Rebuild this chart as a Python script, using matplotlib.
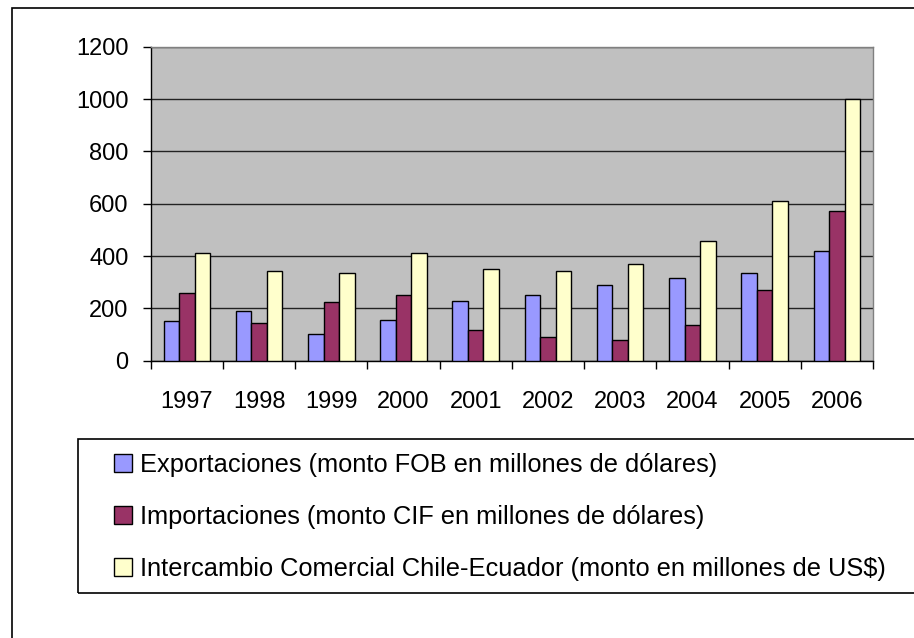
"""Chile-Ecuador trade chart, 1997-2006."""

import matplotlib
matplotlib.use("Agg")
import matplotlib.pyplot as plt
import matplotlib.patches as mpatches
import numpy as np

years = ["1997", "1998", "1999", "2000", "2001", "2002", "2003", "2004", "2005", "2006"]
exportaciones = [150, 191, 103, 157, 230, 251, 290, 317, 337, 418]
importaciones = [259, 143, 224, 251, 118, 90, 78, 136, 271, 571]
intercambio = [410, 344, 337, 410, 350, 344, 371, 457, 611, 1000]

labels = [
    "Exportaciones (monto FOB en millones de dólares)",
    "Importaciones (monto CIF en millones de dólares)",
    "Intercambio Comercial Chile-Ecuador (monto en millones de US$)",
]
colors = ["#9999FF", "#993366", "#FFFFCC"]

plt.rcParams.update({
    "font.family": ["Liberation Sans", "DejaVu Sans"],
    "font.size": 17,
})

W, H = 914, 638
fig = plt.figure(figsize=(W / 100, H / 100), dpi=100)
ax = fig.add_axes([150.7 / W, 1 - 360.7 / H, (873 - 150.7) / W, (360.7 - 46.7) / H])

x = np.arange(len(years))
width = 0.215
series = [exportaciones, importaciones, intercambio]
handles = []
for i, (vals, col) in enumerate(zip(series, colors)):
    ax.bar(x + (i - 1) * width, vals, width, color=col,
           edgecolor="black", linewidth=1.0, zorder=3)
    handles.append(mpatches.Patch(facecolor=col, edgecolor="black", linewidth=1.0))

ax.set_facecolor("#C0C0C0")
ax.set_xlim(-0.5, len(years) - 0.5)
ax.set_ylim(0, 1200)
ax.set_yticks(np.arange(0, 1201, 200))
ax.grid(axis="y", color="#222222", linewidth=1.0, zorder=1)

ax.set_xticks(x)
ax.set_xticklabels(years)
ax.set_xticks(np.arange(-0.5, len(years), 1.0), minor=True)
ax.tick_params(axis="x", which="major", length=0, pad=22)
ax.tick_params(axis="x", which="minor", length=6, width=1.0, direction="out")
ax.tick_params(axis="y", length=6, width=1.0, direction="out", pad=10)

for side in ("top", "right"):
    ax.spines[side].set_color("#808080")
    ax.spines[side].set_linewidth(1.0)
for side in ("left", "bottom"):
    ax.spines[side].set_color("black")
    ax.spines[side].set_linewidth(1.0)

# outer chart border (runs off the right and bottom edge)
fig.patches.append(mpatches.Rectangle(
    (12 / W, -0.1), 1.0, 1 - 8 / H + 0.1, transform=fig.transFigure,
    fill=False, edgecolor="black", linewidth=1.2))

# legend box
fig.patches.append(mpatches.Rectangle(
    (78 / W, 1 - 593 / H), 1.0, (593 - 439) / H, transform=fig.transFigure,
    fill=False, edgecolor="black", linewidth=1.2))

fig.legend(handles, labels, loc="upper left",
           bbox_to_anchor=(114 / W, 1 - 453 / H), frameon=False,
           borderpad=0, borderaxespad=0,
           handlelength=0.7, handleheight=0.7, handletextpad=0.33,
           labelspacing=1.1, fontsize=18.3)

fig.savefig("out.png", dpi=100)
